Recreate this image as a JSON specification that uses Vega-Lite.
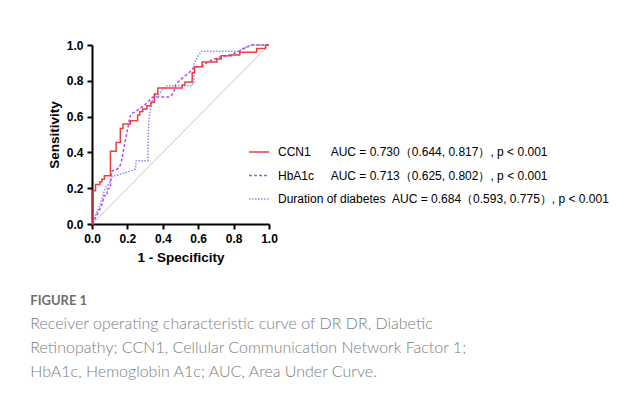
{
  "$schema": "https://vega.github.io/schema/vega-lite/v6.json",
  "width": 177,
  "height": 179,
  "padding": {"left": 30, "top": 39, "right": 5, "bottom": 5},
  "autosize": {"type": "pad"},
  "background": "white",
  "config": {
    "view": {"stroke": null},
    "axis": {
      "grid": false,
      "domainColor": "black",
      "domainWidth": 2,
      "tickColor": "black",
      "tickWidth": 2,
      "tickSize": 5,
      "labelFont": "Liberation Sans",
      "labelFontSize": 12,
      "labelFontWeight": "bold",
      "labelColor": "black",
      "labelFlush": false,
      "labelOverlap": false,
      "labelPadding": 4,
      "titleFont": "Liberation Sans",
      "titleFontSize": 13.5,
      "titleFontWeight": "bold",
      "titleColor": "black"
    },
    "legend": {
      "orient": "none",
      "legendX": 156,
      "legendY": 96,
      "symbolType": "stroke",
      "symbolSize": 400,
      "symbolStrokeWidth": 1.5,
      "labelFont": "Liberation Sans",
      "labelFontSize": 12,
      "labelColor": "black",
      "labelOffset": 8,
      "rowPadding": 6.5,
      "labelLimit": 400
    }
  },
  "title": {
    "text": "FIGURE 1",
    "subtitle": [
      "Receiver operating characteristic curve of DR DR, Diabetic",
      "Retinopathy; CCN1, Cellular Communication Network Factor 1;",
      "HbA1c, Hemoglobin A1c; AUC, Area Under Curve."
    ],
    "orient": "bottom",
    "anchor": "start",
    "frame": "bounds",
    "dx": -17,
    "offset": 31,
    "font": "Lato",
    "fontSize": 13,
    "fontWeight": 700,
    "color": "#6e6e6e",
    "subtitleFont": "Lato",
    "subtitleFontSize": 16,
    "subtitleFontWeight": 300,
    "subtitleColor": "#7c7c7c",
    "subtitleLineHeight": 24,
    "subtitlePadding": 8
  },
  "encoding": {
    "x": {
      "field": "x", "type": "quantitative",
      "scale": {"domain": [0, 1], "nice": false, "zero": false},
      "axis": {"values": [0, 0.2, 0.4, 0.6, 0.8, 1], "tickCount": 12, "format": ".1f", "title": "1 - Specificity", "titlePadding": 6}
    },
    "y": {
      "field": "y", "type": "quantitative",
      "scale": {"domain": [0, 1], "nice": false, "zero": false},
      "axis": {"values": [0, 0.2, 0.4, 0.6, 0.8, 1], "tickCount": 12, "format": ".1f", "title": "Sensitivity", "titlePadding": 5}
    }
  },
  "layer": [
    {
      "data": {"values": [{"x": 0, "y": 0}, {"x": 1, "y": 1}]},
      "mark": {"type": "line", "color": "#c4c4c4", "strokeWidth": 1}
    },
    {
      "data": {
        "values": [
          {"s": "Duration of diabetes", "i": 0, "x": 0, "y": 0},
          {"s": "Duration of diabetes", "i": 1, "x": 0.01, "y": 0.025},
          {"s": "Duration of diabetes", "i": 2, "x": 0.02, "y": 0.05},
          {"s": "Duration of diabetes", "i": 3, "x": 0.03, "y": 0.075},
          {"s": "Duration of diabetes", "i": 4, "x": 0.04, "y": 0.095},
          {"s": "Duration of diabetes", "i": 5, "x": 0.05, "y": 0.12},
          {"s": "Duration of diabetes", "i": 6, "x": 0.058, "y": 0.149},
          {"s": "Duration of diabetes", "i": 7, "x": 0.068, "y": 0.18},
          {"s": "Duration of diabetes", "i": 8, "x": 0.077, "y": 0.205},
          {"s": "Duration of diabetes", "i": 9, "x": 0.096, "y": 0.223},
          {"s": "Duration of diabetes", "i": 10, "x": 0.105, "y": 0.25},
          {"s": "Duration of diabetes", "i": 11, "x": 0.115, "y": 0.265},
          {"s": "Duration of diabetes", "i": 12, "x": 0.15, "y": 0.275},
          {"s": "Duration of diabetes", "i": 13, "x": 0.2, "y": 0.29},
          {"s": "Duration of diabetes", "i": 14, "x": 0.245, "y": 0.307},
          {"s": "Duration of diabetes", "i": 15, "x": 0.25, "y": 0.354},
          {"s": "Duration of diabetes", "i": 16, "x": 0.315, "y": 0.354},
          {"s": "Duration of diabetes", "i": 17, "x": 0.318, "y": 0.5},
          {"s": "Duration of diabetes", "i": 18, "x": 0.322, "y": 0.58},
          {"s": "Duration of diabetes", "i": 19, "x": 0.33, "y": 0.64},
          {"s": "Duration of diabetes", "i": 20, "x": 0.338, "y": 0.685},
          {"s": "Duration of diabetes", "i": 21, "x": 0.35, "y": 0.708},
          {"s": "Duration of diabetes", "i": 22, "x": 0.378, "y": 0.726},
          {"s": "Duration of diabetes", "i": 23, "x": 0.397, "y": 0.75},
          {"s": "Duration of diabetes", "i": 24, "x": 0.425, "y": 0.773},
          {"s": "Duration of diabetes", "i": 25, "x": 0.565, "y": 0.773},
          {"s": "Duration of diabetes", "i": 26, "x": 0.57, "y": 0.79},
          {"s": "Duration of diabetes", "i": 27, "x": 0.575, "y": 0.79},
          {"s": "Duration of diabetes", "i": 28, "x": 0.578, "y": 0.9},
          {"s": "Duration of diabetes", "i": 29, "x": 0.6, "y": 0.94},
          {"s": "Duration of diabetes", "i": 30, "x": 0.62, "y": 0.965},
          {"s": "Duration of diabetes", "i": 31, "x": 0.83, "y": 0.965},
          {"s": "Duration of diabetes", "i": 32, "x": 0.85, "y": 0.98},
          {"s": "Duration of diabetes", "i": 33, "x": 0.88, "y": 0.99},
          {"s": "Duration of diabetes", "i": 34, "x": 0.9, "y": 1},
          {"s": "Duration of diabetes", "i": 35, "x": 1, "y": 1},

          {"s": "HbA1c", "i": 0, "x": 0, "y": 0},
          {"s": "HbA1c", "i": 1, "x": 0.01, "y": 0.015},
          {"s": "HbA1c", "i": 2, "x": 0.02, "y": 0.035},
          {"s": "HbA1c", "i": 3, "x": 0.03, "y": 0.055},
          {"s": "HbA1c", "i": 4, "x": 0.04, "y": 0.075},
          {"s": "HbA1c", "i": 5, "x": 0.05, "y": 0.095},
          {"s": "HbA1c", "i": 6, "x": 0.06, "y": 0.12},
          {"s": "HbA1c", "i": 7, "x": 0.068, "y": 0.158},
          {"s": "HbA1c", "i": 8, "x": 0.085, "y": 0.16},
          {"s": "HbA1c", "i": 9, "x": 0.085, "y": 0.195},
          {"s": "HbA1c", "i": 10, "x": 0.1, "y": 0.2},
          {"s": "HbA1c", "i": 11, "x": 0.105, "y": 0.22},
          {"s": "HbA1c", "i": 12, "x": 0.11, "y": 0.295},
          {"s": "HbA1c", "i": 13, "x": 0.125, "y": 0.3},
          {"s": "HbA1c", "i": 14, "x": 0.143, "y": 0.307},
          {"s": "HbA1c", "i": 15, "x": 0.155, "y": 0.32},
          {"s": "HbA1c", "i": 16, "x": 0.165, "y": 0.34},
          {"s": "HbA1c", "i": 17, "x": 0.175, "y": 0.4},
          {"s": "HbA1c", "i": 18, "x": 0.185, "y": 0.45},
          {"s": "HbA1c", "i": 19, "x": 0.195, "y": 0.5},
          {"s": "HbA1c", "i": 20, "x": 0.205, "y": 0.55},
          {"s": "HbA1c", "i": 21, "x": 0.215, "y": 0.6},
          {"s": "HbA1c", "i": 22, "x": 0.22, "y": 0.615},
          {"s": "HbA1c", "i": 23, "x": 0.24, "y": 0.625},
          {"s": "HbA1c", "i": 24, "x": 0.266, "y": 0.642},
          {"s": "HbA1c", "i": 25, "x": 0.294, "y": 0.661},
          {"s": "HbA1c", "i": 26, "x": 0.322, "y": 0.689},
          {"s": "HbA1c", "i": 27, "x": 0.341, "y": 0.708},
          {"s": "HbA1c", "i": 28, "x": 0.36, "y": 0.71},
          {"s": "HbA1c", "i": 29, "x": 0.435, "y": 0.71},
          {"s": "HbA1c", "i": 30, "x": 0.45, "y": 0.72},
          {"s": "HbA1c", "i": 31, "x": 0.463, "y": 0.735},
          {"s": "HbA1c", "i": 32, "x": 0.473, "y": 0.78},
          {"s": "HbA1c", "i": 33, "x": 0.51, "y": 0.815},
          {"s": "HbA1c", "i": 34, "x": 0.548, "y": 0.845},
          {"s": "HbA1c", "i": 35, "x": 0.576, "y": 0.875},
          {"s": "HbA1c", "i": 36, "x": 0.62, "y": 0.88},
          {"s": "HbA1c", "i": 37, "x": 0.661, "y": 0.91},
          {"s": "HbA1c", "i": 38, "x": 0.717, "y": 0.93},
          {"s": "HbA1c", "i": 39, "x": 0.79, "y": 0.948},
          {"s": "HbA1c", "i": 40, "x": 0.83, "y": 0.965},
          {"s": "HbA1c", "i": 41, "x": 0.877, "y": 0.99},
          {"s": "HbA1c", "i": 42, "x": 0.9, "y": 1},
          {"s": "HbA1c", "i": 43, "x": 1, "y": 1},

          {"s": "CCN1", "i": 0, "x": 0, "y": 0},
          {"s": "CCN1", "i": 1, "x": 0.006, "y": 0},
          {"s": "CCN1", "i": 2, "x": 0.006, "y": 0.186},
          {"s": "CCN1", "i": 3, "x": 0.02, "y": 0.186},
          {"s": "CCN1", "i": 4, "x": 0.02, "y": 0.22},
          {"s": "CCN1", "i": 5, "x": 0.045, "y": 0.22},
          {"s": "CCN1", "i": 6, "x": 0.045, "y": 0.236},
          {"s": "CCN1", "i": 7, "x": 0.056, "y": 0.236},
          {"s": "CCN1", "i": 8, "x": 0.056, "y": 0.25},
          {"s": "CCN1", "i": 9, "x": 0.07, "y": 0.25},
          {"s": "CCN1", "i": 10, "x": 0.07, "y": 0.27},
          {"s": "CCN1", "i": 11, "x": 0.104, "y": 0.27},
          {"s": "CCN1", "i": 12, "x": 0.104, "y": 0.406},
          {"s": "CCN1", "i": 13, "x": 0.136, "y": 0.406},
          {"s": "CCN1", "i": 14, "x": 0.136, "y": 0.456},
          {"s": "CCN1", "i": 15, "x": 0.16, "y": 0.456},
          {"s": "CCN1", "i": 16, "x": 0.16, "y": 0.534},
          {"s": "CCN1", "i": 17, "x": 0.175, "y": 0.534},
          {"s": "CCN1", "i": 18, "x": 0.175, "y": 0.558},
          {"s": "CCN1", "i": 19, "x": 0.217, "y": 0.558},
          {"s": "CCN1", "i": 20, "x": 0.217, "y": 0.577},
          {"s": "CCN1", "i": 21, "x": 0.258, "y": 0.577},
          {"s": "CCN1", "i": 22, "x": 0.258, "y": 0.609},
          {"s": "CCN1", "i": 23, "x": 0.27, "y": 0.609},
          {"s": "CCN1", "i": 24, "x": 0.27, "y": 0.628},
          {"s": "CCN1", "i": 25, "x": 0.287, "y": 0.628},
          {"s": "CCN1", "i": 26, "x": 0.287, "y": 0.642},
          {"s": "CCN1", "i": 27, "x": 0.31, "y": 0.642},
          {"s": "CCN1", "i": 28, "x": 0.31, "y": 0.661},
          {"s": "CCN1", "i": 29, "x": 0.333, "y": 0.661},
          {"s": "CCN1", "i": 30, "x": 0.333, "y": 0.68},
          {"s": "CCN1", "i": 31, "x": 0.352, "y": 0.68},
          {"s": "CCN1", "i": 32, "x": 0.352, "y": 0.726},
          {"s": "CCN1", "i": 33, "x": 0.372, "y": 0.726},
          {"s": "CCN1", "i": 34, "x": 0.372, "y": 0.76},
          {"s": "CCN1", "i": 35, "x": 0.51, "y": 0.76},
          {"s": "CCN1", "i": 36, "x": 0.51, "y": 0.777},
          {"s": "CCN1", "i": 37, "x": 0.525, "y": 0.777},
          {"s": "CCN1", "i": 38, "x": 0.525, "y": 0.793},
          {"s": "CCN1", "i": 39, "x": 0.566, "y": 0.793},
          {"s": "CCN1", "i": 40, "x": 0.566, "y": 0.847},
          {"s": "CCN1", "i": 41, "x": 0.58, "y": 0.847},
          {"s": "CCN1", "i": 42, "x": 0.58, "y": 0.878},
          {"s": "CCN1", "i": 43, "x": 0.622, "y": 0.878},
          {"s": "CCN1", "i": 44, "x": 0.622, "y": 0.905},
          {"s": "CCN1", "i": 45, "x": 0.705, "y": 0.905},
          {"s": "CCN1", "i": 46, "x": 0.705, "y": 0.922},
          {"s": "CCN1", "i": 47, "x": 0.73, "y": 0.922},
          {"s": "CCN1", "i": 48, "x": 0.73, "y": 0.94},
          {"s": "CCN1", "i": 49, "x": 0.787, "y": 0.94},
          {"s": "CCN1", "i": 50, "x": 0.787, "y": 0.944},
          {"s": "CCN1", "i": 51, "x": 0.835, "y": 0.944},
          {"s": "CCN1", "i": 52, "x": 0.835, "y": 0.96},
          {"s": "CCN1", "i": 53, "x": 0.93, "y": 0.96},
          {"s": "CCN1", "i": 54, "x": 0.93, "y": 0.981},
          {"s": "CCN1", "i": 55, "x": 0.98, "y": 0.981},
          {"s": "CCN1", "i": 56, "x": 0.98, "y": 1},
          {"s": "CCN1", "i": 57, "x": 1, "y": 1}
        ]
      },
      "mark": {"type": "line", "strokeWidth": 1.5},
      "encoding": {
        "order": {"field": "i", "type": "quantitative"},
        "color": {
          "field": "s", "type": "nominal",
          "scale": {"domain": ["CCN1", "HbA1c", "Duration of diabetes"], "range": ["#f03c3c", "#b44ef0", "#8a8aff"]},
          "legend": {
            "title": null,
            "labelExpr": "datum.label == 'CCN1' ? 'CCN1\u00a0\u00a0\u00a0\u00a0\u00a0\u00a0AUC = 0.730（0.644, 0.817）, p < 0.001' : datum.label == 'HbA1c' ? 'HbA1c\u00a0\u00a0\u00a0\u00a0\u00a0AUC = 0.713（0.625, 0.802）, p < 0.001' : 'Duration of diabetes\u00a0\u00a0AUC = 0.684（0.593, 0.775）, p < 0.001'"
          }
        },
        "strokeDash": {
          "field": "s", "type": "nominal",
          "scale": {"domain": ["CCN1", "HbA1c", "Duration of diabetes"], "range": [[1, 0], [3, 2], [1.5, 1.5]]},
          "legend": {
            "title": null,
            "labelExpr": "datum.label == 'CCN1' ? 'CCN1\u00a0\u00a0\u00a0\u00a0\u00a0\u00a0AUC = 0.730（0.644, 0.817）, p < 0.001' : datum.label == 'HbA1c' ? 'HbA1c\u00a0\u00a0\u00a0\u00a0\u00a0AUC = 0.713（0.625, 0.802）, p < 0.001' : 'Duration of diabetes\u00a0\u00a0AUC = 0.684（0.593, 0.775）, p < 0.001'"
          }
        }
      }
    }
  ]
}
